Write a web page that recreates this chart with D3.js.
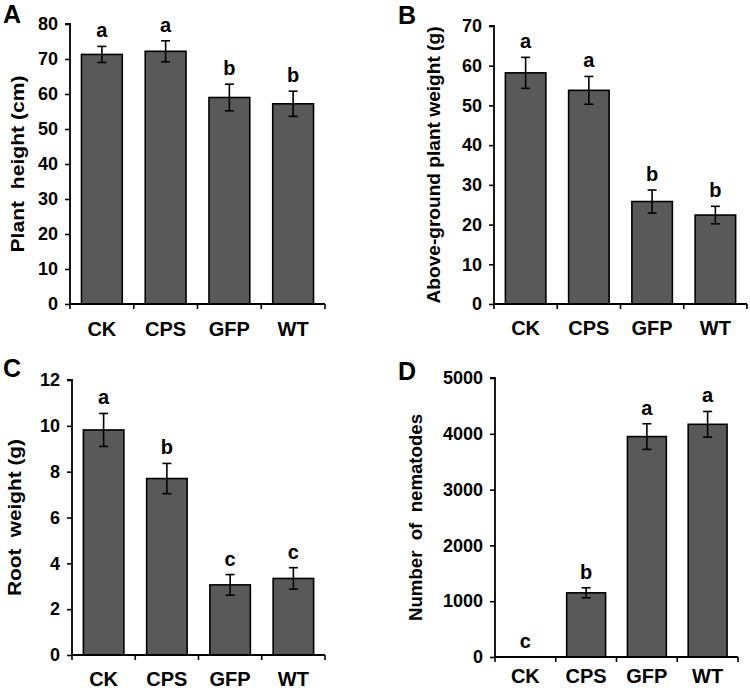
<!DOCTYPE html>
<html><head><meta charset="utf-8">
<script src="https://cdn.jsdelivr.net/npm/d3@7"></script>
<style>body{margin:0;background:#fff}svg{display:block}text{font-family:"Liberation Sans",Arial,sans-serif;font-weight:bold;fill:#000}</style>
</head><body>
<script>
const categories = ["CK","CPS","GFP","WT"];
// Panel A: plant height (cm)
const heightMean = [71.3, 72.2, 59.0, 57.2];
const heightErr  = [2.3, 3.0, 3.8, 3.6];
const heightLetters = ["a","a","b","b"];
const heightTicks = [0,10,20,30,40,50,60,70,80];
// Panel B: above-ground plant weight (g)
const shootMean = [58.2, 53.8, 25.8, 22.4];
const shootErr  = [3.9, 3.5, 2.9, 2.2];
const shootLetters = ["a","a","b","b"];
const shootTicks = [0,10,20,30,40,50,60,70];
// Panel C: root weight (g)
const rootMean = [9.82, 7.70, 3.06, 3.34];
const rootErr  = [0.72, 0.66, 0.45, 0.47];
const rootLetters = ["a","b","c","c"];
const rootTicks = [0,2,4,6,8,10,12];
// Panel D: number of nematodes
const nemaMean = [0, 1150, 3950, 4170];
const nemaErr  = [0, 90, 230, 230];
const nemaLetters = ["c","b","a","a"];
const nemaTicks = [0,1000,2000,3000,4000,5000];

const panels = [
  {tag:"A", mean:heightMean, err:heightErr, letters:heightLetters, ticks:heightTicks, max:80,
   title:"Plant  height (cm)", x0:70, x1:325, y0:24, y1:304, catY:336, tagX:3, tagY:23, titleX:24, titleLen:177},
  {tag:"B", mean:shootMean, err:shootErr, letters:shootLetters, ticks:shootTicks, max:70,
   title:"Above-ground plant weight (g)", x0:494, x1:747, y0:26, y1:304, catY:335, tagX:398, tagY:24, titleX:440, titleLen:277},
  {tag:"C", mean:rootMean, err:rootErr, letters:rootLetters, ticks:rootTicks, max:12,
   title:"Root  weight (g)", x0:72, x1:325, y0:380, y1:655, catY:686, tagX:3, tagY:377, titleX:21, titleLen:157},
  {tag:"D", mean:nemaMean, err:nemaErr, letters:nemaLetters, ticks:nemaTicks, max:5000,
   title:"Number  of  nematodes", x0:495, x1:738, y0:378, y1:657, catY:683, tagX:398, tagY:380, titleX:422, titleLen:207}
];

const svg = d3.select("body").append("svg").attr("width",750).attr("height",692);

panels.forEach(p => {
  const g = svg.append("g");
  const x = d3.scaleBand().domain(categories).range([p.x0, p.x1]).paddingInner(0.36).paddingOuter(0.18);
  const y = d3.scaleLinear().domain([0, p.max]).range([p.y1, p.y0]);

  // bars
  g.selectAll("rect.bar").data(categories).join("rect")
    .attr("x", d => x(d)).attr("width", x.bandwidth())
    .attr("y", (d,i) => y(p.mean[i])).attr("height", (d,i) => y(0) - y(p.mean[i]))
    .attr("fill", "#595959").attr("stroke", "#000").attr("stroke-width", 1.6)
    .style("display", (d,i) => p.mean[i] > 0 ? null : "none");

  // error bars
  categories.forEach((c,i) => {
    if (p.err[i] <= 0) return;
    const cx = x(c) + x.bandwidth()/2;
    const top = y(p.mean[i] + p.err[i]), bot = y(p.mean[i] - p.err[i]);
    g.append("line").attr("x1",cx).attr("x2",cx).attr("y1",top).attr("y2",bot).attr("stroke","#000").attr("stroke-width",1.6);
    [top,bot].forEach(yy => g.append("line").attr("x1",cx-4.5).attr("x2",cx+4.5).attr("y1",yy).attr("y2",yy).attr("stroke","#000").attr("stroke-width",1.6));
  });

  // significance letters
  g.selectAll("text.sig").data(categories).join("text")
    .attr("x", d => x(d) + x.bandwidth()/2)
    .attr("y", (d,i) => y(p.mean[i] + p.err[i]) - 9)
    .attr("text-anchor","middle").style("font-size","20px")
    .text((d,i) => p.letters[i]);

  // y axis
  const ya = g.append("g").attr("transform", `translate(${p.x0},0)`)
    .call(d3.axisLeft(y).tickValues(p.ticks).tickSize(5).tickPadding(7).tickFormat(d3.format("d")));
  ya.select(".domain").attr("stroke","#000").attr("stroke-width",1.8).attr("d", `M-5,${p.y0}H0V${p.y1}`);
  ya.selectAll(".tick line").attr("stroke","#000").attr("stroke-width",1.6);
  ya.selectAll(".tick text").style("font-size","18px").style("font-family","'Liberation Sans',Arial,sans-serif").style("font-weight","bold").attr("fill","#000");

  // x axis
  const step = x.step();
  const bounds = categories.map(c => x(c) - step*x.paddingInner()/2).concat([p.x1]);
  g.append("line").attr("x1",p.x0).attr("x2",p.x1).attr("y1",p.y1).attr("y2",p.y1).attr("stroke","#000").attr("stroke-width",1.8);
  bounds.forEach(bx => g.append("line").attr("x1",bx).attr("x2",bx).attr("y1",p.y1).attr("y2",p.y1+5).attr("stroke","#000").attr("stroke-width",1.6));
  g.selectAll("text.cat").data(categories).join("text")
    .attr("x", d => x(d) + x.bandwidth()/2).attr("y", p.catY)
    .attr("text-anchor","middle").style("font-size","20px").text(d => d);

  // axis title
  g.append("text").attr("transform", `translate(${p.titleX},${(p.y0+p.y1)/2}) rotate(-90)`)
    .attr("text-anchor","middle").style("font-size","19px").style("white-space","pre")
    .attr("textLength", p.titleLen).attr("lengthAdjust","spacingAndGlyphs")
    .text(p.title);

  // panel tag
  g.append("text").attr("x", p.tagX).attr("y", p.tagY).style("font-size","25px").text(p.tag);
});
</script>
</body></html>
